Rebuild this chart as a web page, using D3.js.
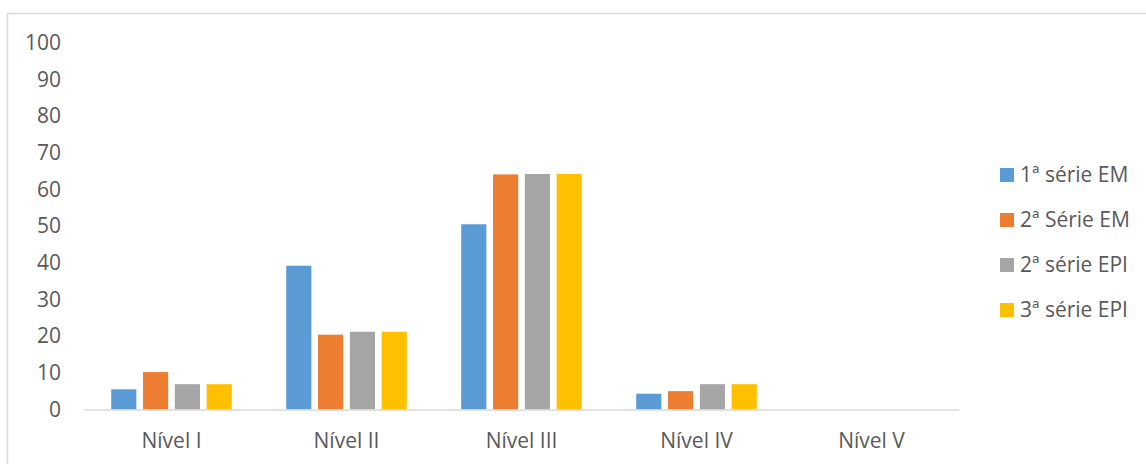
<!DOCTYPE html>
<html>
<head>
<meta charset="utf-8">
<script src="https://cdn.jsdelivr.net/npm/d3@7"></script>
<style>
  body { margin: 0; background: #fff; }
  text { font-family: 'Open Sans', 'Noto Sans', sans-serif; fill: #595959; }
</style>
</head>
<body>
<svg id="chart"></svg>
<script>
const categories = ['Nível I', 'Nível II', 'Nível III', 'Nível IV', 'Nível V'];
const seriesNames = ['1ª série EM', '2ª Série EM', '2ª série EPI', '3ª série EPI'];
const serie1EM = [5.5, 39.2, 50.5, 4.3, 0];
const serie2EM = [10.2, 20.4, 64.1, 5.0, 0];
const serie2EPI = [6.9, 21.2, 64.2, 6.9, 0];
const serie3EPI = [6.9, 21.2, 64.2, 6.9, 0];
const yTicks = [0, 10, 20, 30, 40, 50, 60, 70, 80, 90, 100];
const colors = ['#5b9bd5', '#ed7d31', '#a5a5a5', '#ffc000'];

const seriesValues = [serie1EM, serie2EM, serie2EPI, serie3EPI];
const width = 1146;
const height = 464;
const plot = { left: 84, right: 959, top: 42.7, bottom: 409.5 };
const fontSize = '21px';

const svg = d3.select('#chart').attr('width', width).attr('height', height);

// chart frame
svg.append('rect')
  .attr('x', 7.5)
  .attr('y', 13.5)
  .attr('width', width + 10)
  .attr('height', height + 10)
  .attr('fill', 'none')
  .attr('stroke', '#d9d9d9')
  .attr('stroke-width', 1.5);

const y = d3.scaleLinear().domain([0, 100]).range([plot.bottom, plot.top]);

const x0 = d3.scaleBand()
  .domain(categories)
  .range([plot.left, plot.right])
  .paddingInner(0.311)
  .paddingOuter(0.1555);

const x1 = d3.scaleBand()
  .domain(seriesNames)
  .range([0, x0.bandwidth()])
  .paddingInner(0.21);

const rows = categories.map((c, i) => ({
  category: c,
  values: seriesNames.map((s, j) => ({ series: s, value: seriesValues[j][i], color: colors[j] }))
}));

// y axis labels
const yAxis = svg.append('g')
  .attr('transform', `translate(${plot.left - 23},0)`)
  .call(d3.axisLeft(y).tickValues(yTicks).tickSize(0).tickPadding(0));
yAxis.select('.domain').remove();
yAxis.selectAll('text')
  .style('font-size', fontSize)
  .style('font-family', "'Open Sans', sans-serif")
  .attr('fill', '#595959');

// bars
const groups = svg.append('g')
  .selectAll('g')
  .data(rows)
  .enter()
  .append('g')
  .attr('transform', d => `translate(${x0(d.category)},0)`);

groups.selectAll('rect')
  .data(d => d.values)
  .enter()
  .append('rect')
  .attr('x', d => x1(d.series))
  .attr('y', d => y(d.value))
  .attr('width', x1.bandwidth())
  .attr('height', d => y(0) - y(d.value))
  .attr('fill', d => d.color);

// x axis
const xAxis = svg.append('g')
  .attr('transform', `translate(0,${plot.bottom})`)
  .call(d3.axisBottom(x0).tickSize(0).tickPadding(24));
xAxis.select('.domain')
  .attr('stroke', '#d9d9d9')
  .attr('stroke-width', 1.5);
xAxis.selectAll('text')
  .style('font-size', fontSize)
  .style('font-family', "'Open Sans', sans-serif")
  .attr('fill', '#595959');

// legend
const legend = svg.append('g')
  .selectAll('g')
  .data(seriesNames)
  .enter()
  .append('g')
  .attr('transform', (d, i) => `translate(1000,${175 + i * 45})`);

legend.append('rect')
  .attr('x', 0)
  .attr('y', -7)
  .attr('width', 14)
  .attr('height', 14)
  .attr('fill', (d, i) => colors[i]);

legend.append('text')
  .attr('x', 20)
  .attr('dy', '0.35em')
  .style('font-size', fontSize)
  .text(d => d);
</script>
</body>
</html>
